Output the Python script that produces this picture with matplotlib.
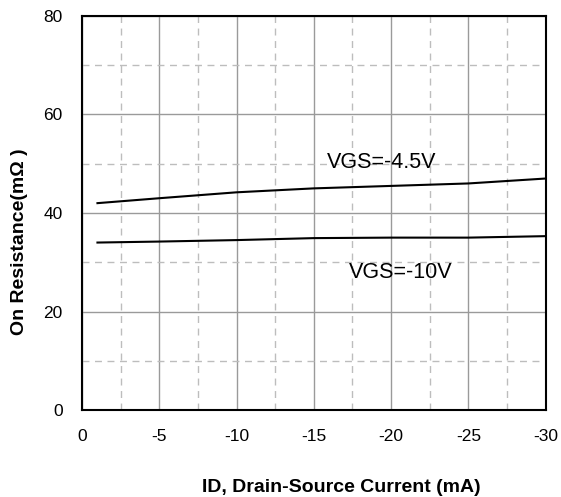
import numpy as np
import matplotlib.pyplot as plt
from matplotlib.ticker import MultipleLocator

# On resistance vs drain current
current_ma = [-1, -5, -10, -15, -20, -25, -30]
rds_vgs_4v5 = [42.0, 43.0, 44.2, 45.0, 45.5, 46.0, 47.0]
rds_vgs_10v = [34.0, 34.2, 34.5, 34.9, 35.0, 35.0, 35.3]

x_ticks = [0, -5, -10, -15, -20, -25, -30]
y_ticks = [0, 20, 40, 60, 80]

plt.rcParams['font.family'] = ['Liberation Sans', 'DejaVu Sans']

fig = plt.figure(figsize=(5.61, 4.97), dpi=100)
ax = fig.add_axes([82 / 561, 1 - 410 / 497, (545.6 - 82) / 561, (410 - 16) / 497])

ax.plot(current_ma, rds_vgs_4v5, color='black', lw=1.5)
ax.plot(current_ma, rds_vgs_10v, color='black', lw=1.5)

ax.set_xlim(0, -30)
ax.set_ylim(0, 80)
ax.set_xticks(x_ticks)
ax.set_xticklabels([str(v) for v in x_ticks])
ax.set_yticks(y_ticks)
ax.xaxis.set_minor_locator(MultipleLocator(2.5))
ax.yaxis.set_minor_locator(MultipleLocator(10))

ax.grid(which='major', color='#9a9a9a', lw=1.0, ls='-')
ax.grid(which='minor', color='#bdbdbd', lw=1.0, ls=(0, (5, 4)))
ax.set_axisbelow(True)

ax.tick_params(which='both', length=0)
ax.tick_params(axis='x', pad=14, labelsize=12.5)
ax.tick_params(axis='y', pad=14, labelsize=12.5)
for s in ax.spines.values():
    s.set_color('black')
    s.set_linewidth(1.5)

ax.text(-19.4, 50.2, 'VGS=-4.5V', fontsize=15.5, ha='center', va='center')
ax.text(-20.6, 28.0, 'VGS=-10V', fontsize=15.5, ha='center', va='center')

fig.text(341.5 / 561, 1 - 487 / 497, 'ID, Drain-Source Current (mA)',
         fontsize=14, fontweight='bold', ha='center', va='center')
fig.text(20 / 561, 1 - 242 / 497, 'On Resistance(mΩ )',
         fontsize=14, fontweight='bold', ha='center', va='center', rotation=90)

fig.savefig('out.png', dpi=100)
